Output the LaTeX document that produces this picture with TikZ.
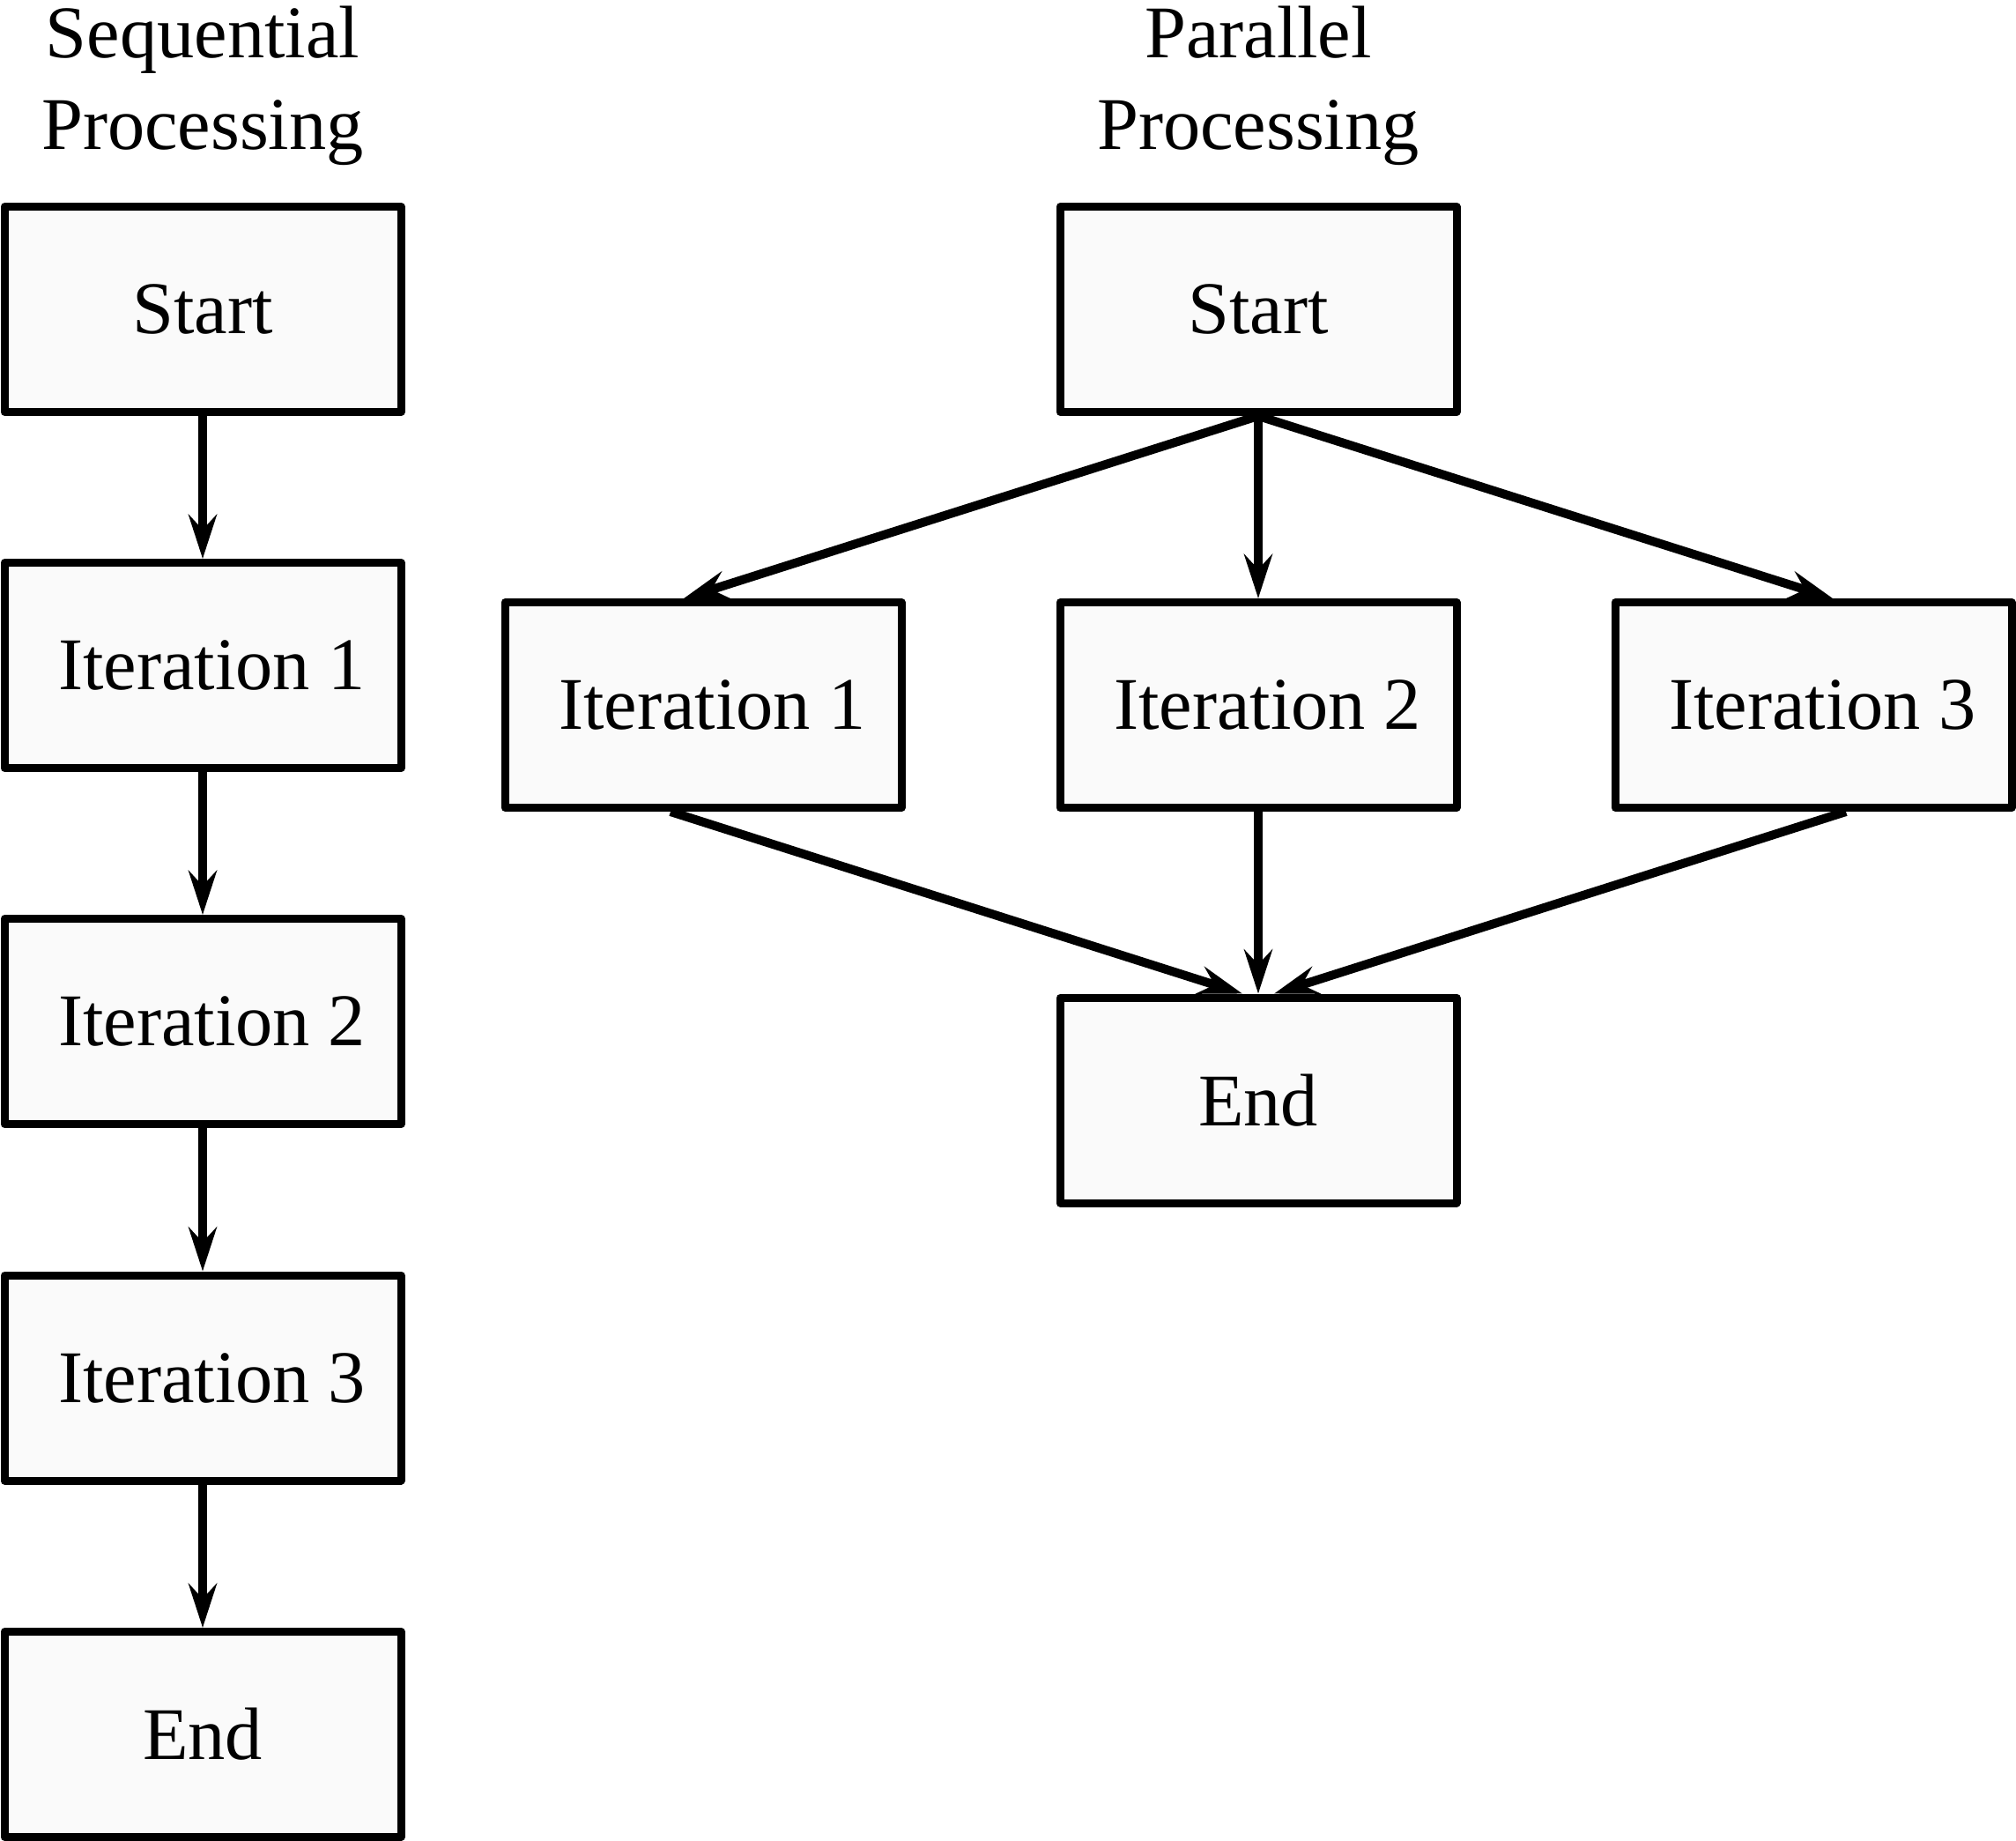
\documentclass[tikz,border=0pt]{standalone}
\usepackage{fontspec}
\setmainfont{Liberation Serif}
\usetikzlibrary{arrows.meta}
\definecolor{boxfill}{HTML}{FAFAFA}
\tikzset{
	box/.style={draw, fill=boxfill, line width=0.09cm, line join=round,
		minimum width=4.5cm, minimum height=2.33cm, inner sep=0pt,
		font=\fontsize{24}{29.6}\selectfont},
	title/.style={anchor=north, align=center, inner sep=0pt,
		font=\fontsize{24}{29.6}\selectfont},
	arr/.style={line width=0.1cm, -{Stealth[length=5mm,width=3.2mm,inset=1.7mm]}}
}

\begin{document}
\begin{tikzpicture}
\useasboundingbox (0,0) rectangle (22.88,-20.89);

% SEQUENTIAL
\node[title] (st) at (2.30,-0.06) {Sequential\\Processing};
\node[box] (s0) at (2.30,-3.51) {Start};
\node[box] (s1) at (2.30,-7.55) {\ Iteration 1};
\node[box] (s2) at (2.30,-11.59) {\ Iteration 2};
\node[box] (s3) at (2.30,-15.635) {\ Iteration 3};
\node[box] (se) at (2.30,-19.68) {End};
\draw[arr] (s0.south) -- (s1.north);
\draw[arr] (s1.south) -- (s2.north);
\draw[arr] (s2.south) -- (s3.north);
\draw[arr] (s3.south) -- (se.north);

% PARALLEL
\node[title] (pt) at (14.28,-0.06) {Parallel\\Processing};
\node[box] (p0) at (14.28,-3.51) {Start};
\node[box] (p1) at (7.98,-8.00) {\ Iteration 1};
\node[box] (p2) at (14.28,-8.00) {\ Iteration 2};
\node[box] (p3) at (20.58,-8.00) {\ Iteration 3};
\node[box] (pe) at (14.28,-12.485) {End};
\draw[arr] (p0.south) -- ([xshift=-0.22cm]p1.north);
\draw[arr] (p0.south) -- (p2.north);
\draw[arr] (p0.south) -- ([xshift=0.22cm]p3.north);
\draw[arr] ([xshift=-0.37cm]p1.south) -- ([xshift=-0.18cm]pe.north);
\draw[arr] (p2.south) -- (pe.north);
\draw[arr] ([xshift=0.37cm]p3.south) -- ([xshift=0.18cm]pe.north);

\end{tikzpicture}
\end{document}
